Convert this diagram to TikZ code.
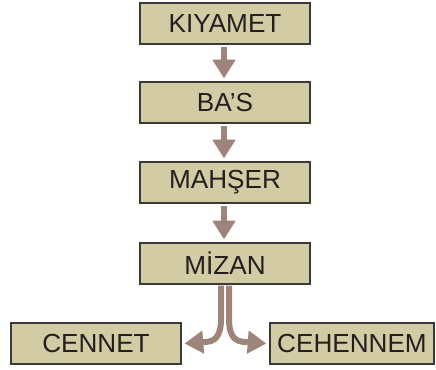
\documentclass[tikz,border=0pt]{standalone}
\usepackage{fontspec}
\setmainfont{Liberation Sans}
\usetikzlibrary{arrows.meta}
\definecolor{boxfill}{HTML}{D3CBA3}
\definecolor{boxline}{HTML}{3A3A3A}
\definecolor{arrowc}{HTML}{9D857A}
\definecolor{txt}{HTML}{231F20}
\begin{document}
\begin{tikzpicture}[x=0.75pt,y=-0.75pt,
  stagebox/.style={draw=boxline, line width=0.9pt, fill=boxfill, text=txt,
    minimum width=127.5pt, minimum height=30.75pt, inner sep=0pt,
    font=\fontsize{19.6}{23}\selectfont},
  blockarrow/.style={draw=arrowc, line width=4.5pt,
    -{Triangle[width=16.5pt,length=14pt]}}]
\useasboundingbox (0,0) rectangle (436,369);
\node[stagebox] (k) at (225,23.5) {KIYAMET};
\node[stagebox] (b) at (225,102.5) {BA’S};
\node[stagebox] (m) at (225,182.5) {MAHŞER};
\node[stagebox] (z) at (225,263.5) {MİZAN};
\node[stagebox] (c) at (96,343.5) {CENNET};
\node[stagebox, minimum width=123pt] (h) at (352,343.5) {CEHENNEM};
\draw[blockarrow] ([xshift=-0.75pt,yshift=-1.5pt]k.south) -- ([xshift=-0.75pt,yshift=2.25pt]b.north);
\draw[blockarrow] ([xshift=-0.75pt,yshift=-1.5pt]b.south) -- ([xshift=-0.75pt,yshift=2.25pt]m.north);
\draw[blockarrow] ([xshift=-0.75pt,yshift=-1.5pt]m.south) -- ([xshift=-0.75pt,yshift=2.25pt]z.north);
\coordinate (zl) at ([xshift=-3pt,yshift=-0.75pt]z.south);
\coordinate (zr) at ([xshift=3pt,yshift=-0.75pt]z.south);
\draw[blockarrow] (zl) -- ++(0,33) .. controls ++(0,18) and (215,342) .. (204,342) -- ([xshift=2.25pt]c.east);
\draw[blockarrow] (zr) -- ++(0,33) .. controls ++(0,18) and (235,342) .. (246,342) -- ([xshift=-2.25pt]h.west);
\end{tikzpicture}
\end{document}
